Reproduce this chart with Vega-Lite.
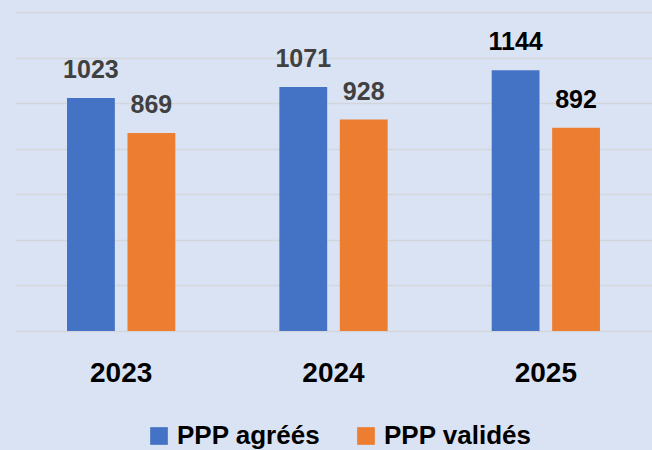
{
  "$schema": "https://vega.github.io/schema/vega-lite/v6.json",
  "width": 637,
  "height": 319,
  "autosize": {"type": "none"},
  "padding": {"left": 15, "top": 12, "right": 0, "bottom": 119},
  "background": "#dae3f3",
  "config": {"view": {"stroke": null}, "font": "Liberation Sans"},
  "data": {
    "values": [
      {"year": "2023", "series": "PPP agréés", "value": 1023},
      {"year": "2023", "series": "PPP validés", "value": 869},
      {"year": "2024", "series": "PPP agréés", "value": 1071},
      {"year": "2024", "series": "PPP validés", "value": 928},
      {"year": "2025", "series": "PPP agréés", "value": 1144},
      {"year": "2025", "series": "PPP validés", "value": 892}
    ]
  },
  "encoding": {
    "x": {
      "field": "year",
      "type": "nominal",
      "title": null,
      "scale": {"paddingInner": 0.49, "paddingOuter": 0.245},
      "axis": {
        "domain": false,
        "ticks": false,
        "tickSize": 0,
        "labelPadding": 50,
        "labelBaseline": "alphabetic",
        "labelFontSize": 28,
        "labelFontWeight": "bold",
        "labelColor": "#000000",
        "labelAngle": 0,
        "grid": false
      }
    },
    "xOffset": {
      "field": "series",
      "type": "nominal",
      "sort": ["PPP agréés", "PPP validés"],
      "scale": {"paddingInner": 0.209, "paddingOuter": 0}
    },
    "y": {
      "field": "value",
      "type": "quantitative",
      "title": null,
      "scale": {"domain": [0, 1400], "nice": false},
      "axis": {
        "values": [0, 200, 400, 600, 800, 1000, 1200, 1400],
        "labels": false,
        "ticks": false,
        "domain": false,
        "grid": true,
        "gridColor": "#d2d5da",
        "gridWidth": 1.5
      }
    }
  },
  "layer": [
    {
      "mark": {"type": "bar"},
      "encoding": {
        "color": {
          "field": "series",
          "type": "nominal",
          "sort": ["PPP agréés", "PPP validés"],
          "scale": {"range": ["#4472C4", "#ED7D31"]},
          "legend": {
            "title": null,
            "orient": "none",
            "direction": "horizontal",
            "legendX": 131,
            "legendY": 411,
            "symbolType": "square",
            "symbolSize": 313,
            "symbolStrokeWidth": 0,
            "labelFontSize": 26,
            "labelFontWeight": "bold",
            "labelColor": "#000000",
            "labelOffset": 5,
            "columnPadding": 32,
            "padding": 0
          }
        }
      }
    },
    {
      "mark": {"type": "text", "dy": -20, "baseline": "alphabetic", "fontWeight": "bold", "fontSize": 25},
      "encoding": {
        "text": {"field": "value", "type": "quantitative", "format": "d"},
        "color": {
          "condition": {"test": "datum.year === '2025'", "value": "#000000"},
          "value": "#404040"
        }
      }
    }
  ]
}
